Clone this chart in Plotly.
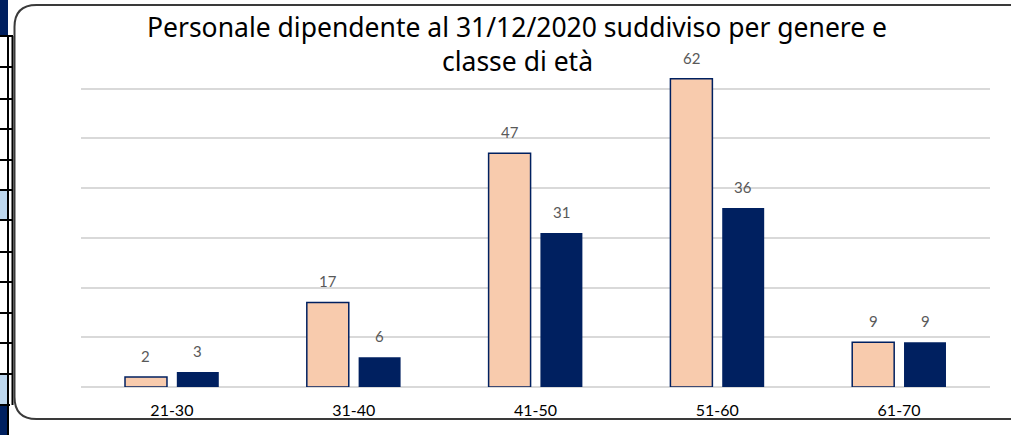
import plotly.graph_objects as go

categories = ["21-30", "31-40", "41-50", "51-60", "61-70"]
femmine = [2, 17, 47, 62, 9]
maschi = [3, 6, 31, 36, 9]
title_lines = ["Personale dipendente al 31/12/2020 suddiviso per genere e", "classe di età"]

W, H = 1011, 435
L, R, T, B = 81, 21, 39, 48
PW, PH = W - L - R, H - T - B


def px(x):
    return (x - L) / PW


def py(y):
    return (H - B - y) / PH


fig = go.Figure()
fig.add_trace(go.Bar(
    x=categories, y=femmine, name="Donne",
    marker=dict(color="#F8CBAD", line=dict(color="#002060", width=1.5)),
))
fig.add_trace(go.Bar(
    x=categories, y=maschi, name="Uomini",
    marker=dict(color="#002060", line=dict(width=0)),
))

annotations = []
for line_text, cy in zip(title_lines, [27, 61]):
    annotations.append(dict(
        text=line_text, xref="paper", yref="paper", x=px(517), y=py(cy),
        xanchor="center", yanchor="middle", showarrow=False, align="center",
        font=dict(family="Noto Sans", size=26.5, color="black"), bgcolor="white",
        borderpad=0,
    ))
for series, shift in [(femmine, -26), (maschi, 26)]:
    for c, v in zip(categories, series):
        annotations.append(dict(
            x=c, y=v, xref="x", yref="y", text=str(v), showarrow=False,
            xshift=shift, yshift=10, yanchor="bottom", xanchor="center",
            font=dict(family="Lato", size=15, color="#595959"),
        ))

shapes = []
# left table fragment
table_lines = [36, 67, 99, 129, 160, 190, 220, 252, 282, 313, 343, 374]
shapes.append(dict(type="rect", xref="paper", yref="paper", x0=px(0), x1=px(8), y0=py(0), y1=py(35),
                   fillcolor="#002060", line=dict(width=0), layer="above"))
shapes.append(dict(type="rect", xref="paper", yref="paper", x0=px(0), x1=px(8), y0=py(405), y1=py(435),
                   fillcolor="#002060", line=dict(width=0), layer="above"))
for (a, b) in [(190, 220), (374, 405)]:
    shapes.append(dict(type="rect", xref="paper", yref="paper", x0=px(0), x1=px(8), y0=py(a), y1=py(b),
                       fillcolor="#BDD7EE", line=dict(width=0), layer="above"))
for yv in table_lines:
    shapes.append(dict(type="line", xref="paper", yref="paper", x0=px(0), x1=px(13), y0=py(yv), y1=py(yv),
                       line=dict(color="black", width=2), layer="above"))
shapes.append(dict(type="line", xref="paper", yref="paper", x0=px(8), x1=px(8), y0=py(35), y1=py(435),
                   line=dict(color="black", width=2), layer="above"))
shapes.append(dict(type="line", xref="paper", yref="paper", x0=px(12.5), x1=px(12.5), y0=py(36), y1=py(405),
                   line=dict(color="black", width=2), layer="above"))
shapes.append(dict(type="line", xref="paper", yref="paper", x0=px(0), x1=px(10), y0=py(405), y1=py(405),
                   line=dict(color="black", width=2), layer="above"))

# rounded frame
x0f, x1f, y0f, y1f, r = 14.5, 1030, 5, 419, 22
path = (f"M {px(x0f + r)},{py(y0f)} L {px(x1f - r)},{py(y0f)} "
        f"Q {px(x1f)},{py(y0f)} {px(x1f)},{py(y0f + r)} L {px(x1f)},{py(y1f - r)} "
        f"Q {px(x1f)},{py(y1f)} {px(x1f - r)},{py(y1f)} L {px(x0f + r)},{py(y1f)} "
        f"Q {px(x0f)},{py(y1f)} {px(x0f)},{py(y1f - r)} L {px(x0f)},{py(y0f + r)} "
        f"Q {px(x0f)},{py(y0f)} {px(x0f + r)},{py(y0f)} Z")
shapes.append(dict(type="path", xref="paper", yref="paper", path=path,
                   line=dict(color="#3A3A3A", width=2), layer="above"))

fig.update_layout(
    width=W, height=H,
    margin=dict(l=L, r=R, t=T, b=B),
    paper_bgcolor="white", plot_bgcolor="white",
    barmode="group", bargap=0.43, bargroupgap=0.19,
    showlegend=False,
    shapes=shapes,
    annotations=annotations,
    xaxis=dict(showgrid=False, showline=False, ticks="", zeroline=False,
               tickfont=dict(family="Lato", size=16, color="black"), ticklabelstandoff=12),
    yaxis=dict(range=[0, 70], dtick=10, showgrid=True, gridcolor="#D9D9D9", gridwidth=1.5,
               showticklabels=False, zeroline=True, zerolinecolor="#D9D9D9", zerolinewidth=1.5,
               showline=False),
)

fig.write_html("out.html", config={"displayModeBar": False},
               post_script="document.body.style.margin='0';document.body.style.padding='0';")
